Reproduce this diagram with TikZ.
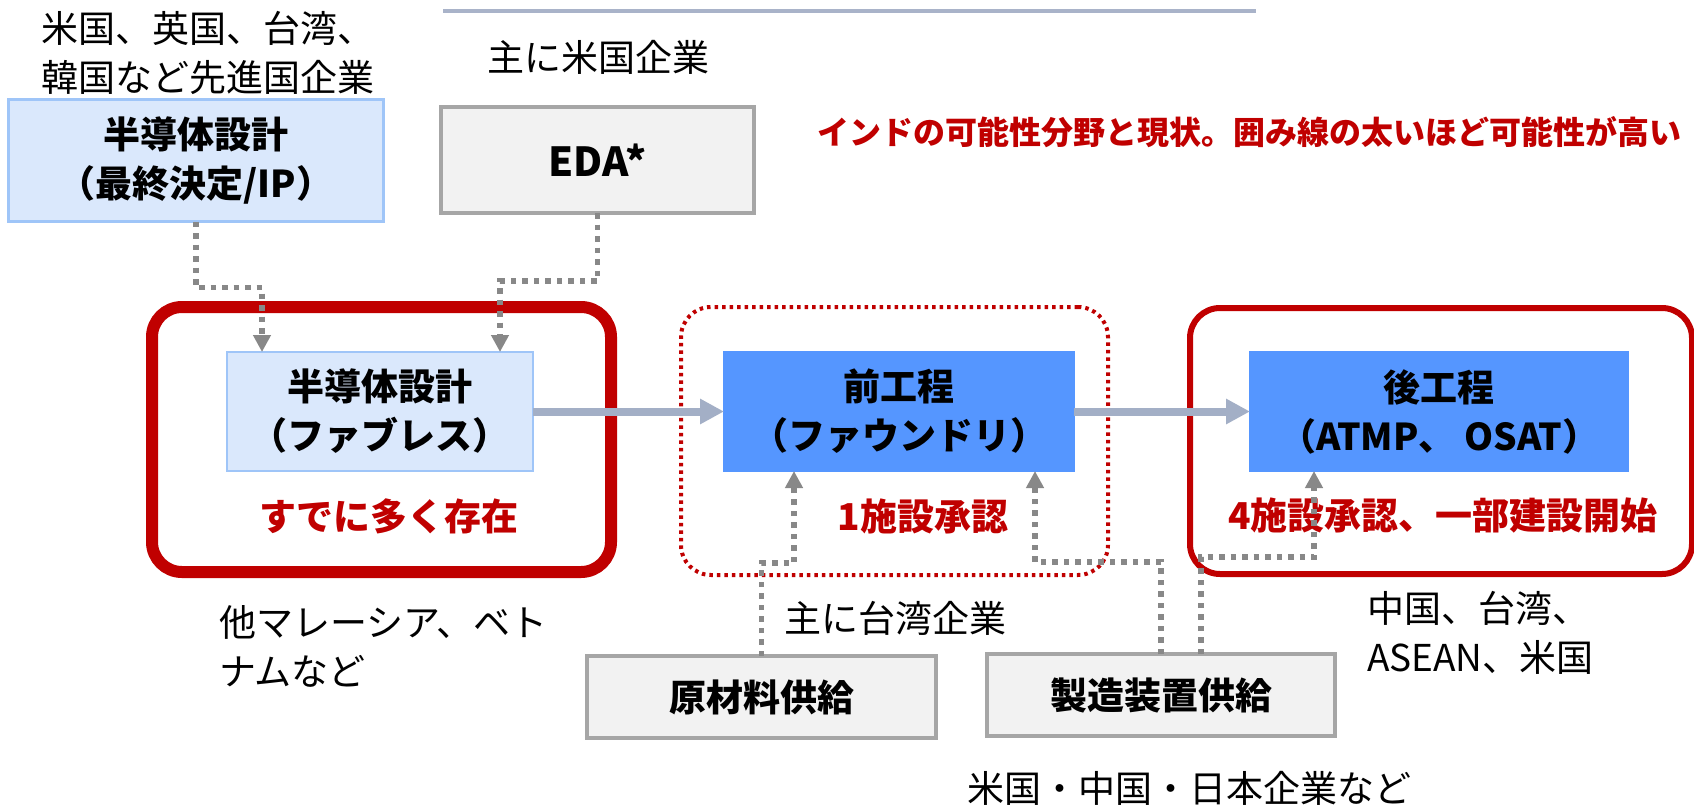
\documentclass[tikz,border=0pt]{standalone}
\usepackage{fontspec}
\setmainfont{Noto Sans CJK JP}
\usetikzlibrary{arrows.meta,calc}
\definecolor{lblue}{HTML}{DAE8FC}
\definecolor{lbluebd}{HTML}{9FC5F8}
\definecolor{mblue}{HTML}{5596FF}
\definecolor{gfill}{HTML}{F2F2F2}
\definecolor{gbd}{HTML}{A6A6A6}
\definecolor{dred}{HTML}{C00000}
\definecolor{flowc}{HTML}{A3AFC6}
\definecolor{connc}{HTML}{888888}
\definecolor{topline}{HTML}{A9B3C9}
\begin{document}
\begin{tikzpicture}[x=1pt,y=-1pt,
  every node/.style={inner sep=0pt, outer sep=0pt},
  lbl/.style={font=\fontsize{37}{49}\selectfont, align=left},
  boxbase/.style={draw, line width=2.5pt, font=\bfseries\fontsize{37}{49}\selectfont, align=center},
  ltbox/.style={boxbase, fill=lblue, draw=lbluebd},
  blubox/.style={boxbase, fill=mblue, draw=mblue},
  graybox/.style={boxbase, fill=gfill, draw=gbd, line width=3.5pt},
  redtxt/.style={font=\bfseries\fontsize{37}{49}\selectfont, text=dred},
  flow/.style={draw=flowc, line width=8pt, -{Triangle[length=24pt,width=24pt]}},
  conn/.style={draw=connc, line width=5.5pt, dash pattern=on 5.5pt off 6pt, -{Triangle[length=17pt,width=17pt]}},
  grp/.style={draw=dred, rounded corners=30pt},
]
\useasboundingbox (0,0) rectangle (1694,806);
\fill[white] (0,0) rectangle (1694,806);

% top line
\draw[topline, line width=3.5pt] (443,11) -- (1256,11);

% group frames
\node[grp, line width=12pt, minimum width=459pt, minimum height=265pt] (G1) at (381.5,439.5) {};
\node[grp, line width=4pt, dash pattern=on 3.5pt off 4pt, minimum width=427pt, minimum height=268pt] (G2) at (894.5,441) {};
\node[grp, line width=6pt, minimum width=502pt, minimum height=266pt] (G3) at (1441,441) {};

% boxes
\node[ltbox, minimum width=375pt, minimum height=122pt] (A) at (196,160.5) {半導体設計\\（最終決定/IP）};
\node[graybox, minimum width=313pt, minimum height=106pt, font=\bfseries\fontsize{40}{49}\selectfont] (E) at (597.5,160) {EDA*};
\node[ltbox, minimum width=306pt, minimum height=119pt] (B) at (380,411.5) {半導体設計\\（ファブレス）};
\node[blubox, minimum width=350pt, minimum height=119pt] (C) at (899,411.5) {前工程\\（ファウンドリ）};
\node[blubox, minimum width=378pt, minimum height=119pt] (D) at (1439,411.5) {後工程\\（ATMP、 OSAT）};
\node[graybox, minimum width=349pt, minimum height=82pt] (R) at (761.5,697) {原材料供給};
\node[graybox, minimum width=348pt, minimum height=82pt] (M) at (1161,695) {製造装置供給};

% labels
\node[lbl, anchor=west] (t1) at (41,52.5) {米国、英国、台湾、\\韓国など先進国企業};
\node[lbl] (t2) at (598,57) {主に米国企業};
\node[font=\bfseries\fontsize{32}{40}\selectfont, text=dred] (title) at (1249,132) {インドの可能性分野と現状。囲み線の太いほど可能性が高い};
\node[redtxt] (r1) at (389,516) {すでに多く存在};
\node[redtxt] (r2) at (923,516) {1施設承認};
\node[redtxt] (r3) at (1443,516) {4施設承認、一部建設開始};
\node[lbl, anchor=west] (t3) at (219,646.5) {他マレーシア、ベト\\ナムなど};
\node[lbl] (t4) at (895,618) {主に台湾企業};
\node[lbl, anchor=west] (t5) at (1367,632.5) {中国、台湾、\\ASEAN、米国};
\node[lbl] (t6) at (1189,788) {米国・中国・日本企業など};

% flow arrows
\draw[flow] (B) -- (C);
\draw[flow] (C) -- (D);

% dotted connectors
\draw[conn] (A.south) -- ++(0,66) -| ($(B.north west)+(35,0)$);
\draw[conn] (E.south) -- ++(0,68) -| ($(B.north east)+(-33,0)$);
\draw[conn] (R.north) -- ++(0,-93) -| ($(C.south west)+(70,0)$);
\draw[conn] (M.north) -- ++(0,-92) -| ($(C.south east)+(-39,0)$);
\draw[conn] ($(M.north)+(40,0)$) -- ++(0,-97) -| ($(D.south west)+(64,0)$);
\end{tikzpicture}
\end{document}
